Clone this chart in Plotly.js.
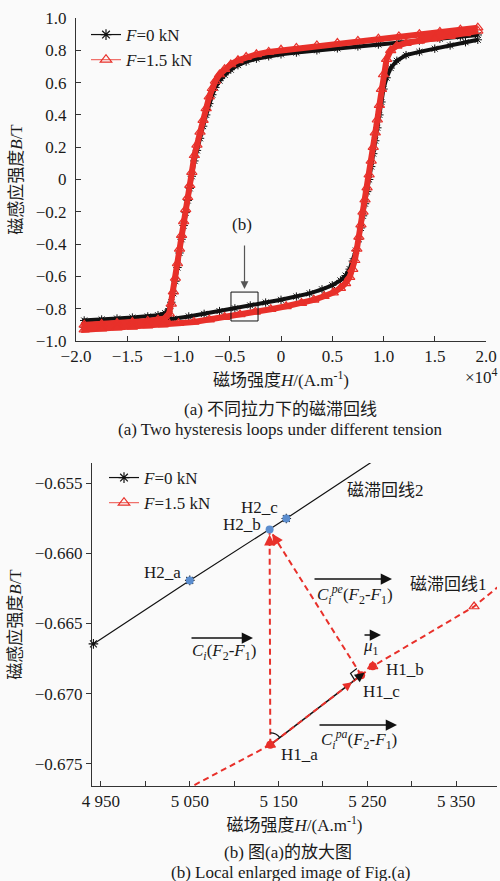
<!DOCTYPE html>
<html>
<head>
<meta charset="utf-8">
<script src="https://cdn.plot.ly/plotly-3.0.1.min.js"></script>
<style>
  html, body { margin: 0; padding: 0; background: #fafafa; }
  #chart { width: 500px; height: 881px; }
</style>
</head>
<body>
<div id="chart"></div>
<script>
// ---------- (a) full hysteresis loops, H in units of 1e4 A/m ----------
// F = 0 kN, descending branch (H from +max to -max)
const f0DownH = [1.92, 1.75, 1.55, 1.35, 1.15, 0.95, 0.75, 0.55, 0.35, 0.15, 0.00, -0.12, -0.24, -0.34, -0.42, -0.49, -0.55, -0.60, -0.64, -0.67, -0.70, -0.73, -0.76, -0.79, -0.82, -0.845, -0.87, -0.89, -0.91, -0.93, -0.95, -0.97, -0.99, -1.01, -1.03, -1.05, -1.07, -1.09, -1.13, -1.20, -1.30, -1.45, -1.60, -1.75, -1.92];
const f0DownB = [0.895, 0.885, 0.872, 0.860, 0.848, 0.836, 0.824, 0.812, 0.800, 0.786, 0.775, 0.763, 0.748, 0.730, 0.708, 0.680, 0.648, 0.612, 0.570, 0.525, 0.470, 0.400, 0.330, 0.255, 0.180, 0.115, 0.020, -0.055, -0.130, -0.205, -0.285, -0.370, -0.455, -0.545, -0.630, -0.705, -0.760, -0.800, -0.828, -0.840, -0.848, -0.855, -0.861, -0.867, -0.873];
// F = 0 kN, ascending branch
const f0UpH = [-1.92, -1.75, -1.60, -1.45, -1.30, -1.15, -1.05, -0.90, -0.75, -0.60, -0.45, -0.30, -0.15, 0.00, 0.15, 0.28, 0.40, 0.50, 0.58, 0.63, 0.67, 0.70, 0.73, 0.76, 0.78, 0.80, 0.82, 0.84, 0.86, 0.88, 0.90, 0.92, 0.94, 0.96, 0.98, 1.00, 1.03, 1.07, 1.13, 1.22, 1.35, 1.50, 1.65, 1.80, 1.92];
const f0UpB = [-0.915, -0.905, -0.898, -0.890, -0.880, -0.870, -0.862, -0.848, -0.832, -0.815, -0.798, -0.780, -0.762, -0.745, -0.725, -0.705, -0.680, -0.655, -0.625, -0.595, -0.555, -0.505, -0.440, -0.370, -0.300, -0.225, -0.150, -0.075, 0.000, 0.080, 0.160, 0.240, 0.320, 0.400, 0.480, 0.560, 0.630, 0.690, 0.735, 0.770, 0.790, 0.810, 0.830, 0.850, 0.865];
// F = 1.5 kN, descending branch
const f15DownH = [1.92, 1.75, 1.55, 1.35, 1.15, 0.95, 0.75, 0.55, 0.35, 0.15, 0.00, -0.12, -0.24, -0.34, -0.42, -0.49, -0.55, -0.60, -0.64, -0.67, -0.70, -0.73, -0.76, -0.79, -0.82, -0.845, -0.87, -0.89, -0.91, -0.93, -0.95, -0.97, -0.99, -1.01, -1.03, -1.05, -1.07, -1.09, -1.13, -1.20, -1.30, -1.45, -1.60, -1.75, -1.92];
const f15DownB = [0.940, 0.928, 0.914, 0.900, 0.886, 0.872, 0.858, 0.845, 0.830, 0.815, 0.803, 0.790, 0.775, 0.758, 0.738, 0.712, 0.683, 0.650, 0.610, 0.565, 0.513, 0.440, 0.368, 0.295, 0.215, 0.150, 0.045, -0.035, -0.110, -0.185, -0.260, -0.345, -0.430, -0.520, -0.610, -0.695, -0.770, -0.830, -0.860, -0.868, -0.876, -0.883, -0.889, -0.895, -0.900];
// F = 1.5 kN, ascending branch
const f15UpH = [-1.92, -1.75, -1.60, -1.45, -1.30, -1.15, -1.00, -0.85, -0.70, -0.55, -0.40, -0.25, -0.10, 0.05, 0.20, 0.32, 0.42, 0.51, 0.58, 0.63, 0.67, 0.70, 0.72, 0.74, 0.76, 0.78, 0.80, 0.82, 0.84, 0.86, 0.88, 0.90, 0.92, 0.94, 0.96, 0.98, 1.00, 1.03, 1.07, 1.13, 1.22, 1.35, 1.50, 1.65, 1.80, 1.92];
const f15UpB = [-0.930, -0.924, -0.918, -0.912, -0.905, -0.898, -0.890, -0.882, -0.868, -0.852, -0.836, -0.820, -0.803, -0.785, -0.765, -0.745, -0.723, -0.700, -0.672, -0.643, -0.605, -0.555, -0.500, -0.430, -0.355, -0.280, -0.200, -0.125, -0.050, 0.030, 0.115, 0.200, 0.290, 0.370, 0.460, 0.560, 0.650, 0.745, 0.800, 0.828, 0.845, 0.858, 0.872, 0.888, 0.905, 0.920];
// window that is enlarged in (b): [Hmin, Hmax], [Bmin, Bmax]
const zoomWinH = [-0.488, -0.224];
const zoomWinB = [-0.876, -0.697];

const aTickH = [-2, -1.5, -1, -0.5, 0, 0.5, 1, 1.5, 2];
const aTickHText = ['\u22122.0', '\u22121.5', '\u22121.0', '\u22120.5', '0', '0.5', '1.0', '1.5', '2.0'];
const aTickB = [-1, -0.8, -0.6, -0.4, -0.2, 0, 0.2, 0.4, 0.6, 0.8, 1];
const aTickBText = ['\u22121.0', '\u22120.8', '\u22120.6', '\u22120.4', '\u22120.2', '0', '0.2', '0.4', '0.6', '0.8', '1.0'];

// ---------- (b) enlarged region, H in A/m ----------
const loop2H = [4941.5, 5050.0, 5158.7, 5267.3];        // F = 0 kN (磁滞回线2)
const loop2B = [-0.66645, -0.66193, -0.65752, -0.65298];
const loop1H = [5025.4, 5140.7, 5256.0, 5370.2, 5485.0]; // F = 1.5 kN (磁滞回线1)
const loop1B = [-0.67750, -0.67364, -0.66805, -0.66379, -0.65782];
const h2Names = ['H2_a', 'H2_b', 'H2_c'];
const h2H = [loop2H[1], 5139.9, loop2H[2]];
const h2B = [loop2B[1], -0.65830, loop2B[2]];
const h1Names = ['H1_a', 'H1_b', 'H1_c'];
const h1H = [loop1H[1], loop1H[2], 5243.0];
const h1B = [loop1B[1], loop1B[2], -0.66868];

const bTickH = [4950, 5000, 5050, 5100, 5150, 5200, 5250, 5300, 5350];
const bTickHText = ['4 950', '', '5 050', '', '5 150', '', '5 250', '', '5 350'];
const bTickB = [-0.675, -0.670, -0.665, -0.660, -0.655];
const bTickBText = ['\u22120.675', '\u22120.670', '\u22120.665', '\u22120.660', '\u22120.655'];

// ---------- geometry ----------
const W = 500, HT = 881;
const FONT = '"Liberation Serif", "Times New Roman", "Noto Sans CJK SC", serif';
const INK = '#1a1a1a';
const RED = '#e8302a';
const BLUE = '#5b8dce';
const topBox = { l: 76, r: 486, t: 18, b: 341 };
const botBox = { l: 92, r: 497, t: 463, b: 786 };
const botRangeH = [4939.9, 5396];
const botRangeB = [-0.67657, -0.65357];

const paper = (px, py) => ({ x: px / W, y: 1 - py / HT });
function botPx(h, b) {
  const x = botBox.l + (h - botRangeH[0]) / (botRangeH[1] - botRangeH[0]) * (botBox.r - botBox.l);
  const y = botBox.t + (botRangeB[1] - b) / (botRangeB[1] - botRangeB[0]) * (botBox.b - botBox.t);
  return [x, y];
}
function unit(from, to) {
  const dx = to[0] - from[0], dy = to[1] - from[1], d = Math.hypot(dx, dy);
  return [dx / d, dy / d];
}

// ---------- traces ----------
const traces = [];
// (a) loops: black first, red drawn over it
traces.push({
  x: f0DownH.concat(f0UpH), y: f0DownB.concat(f0UpB),
  xaxis: 'x', yaxis: 'y', mode: 'lines+markers', showlegend: false, hoverinfo: 'skip',
  line: { color: '#111', width: 4 },
  marker: { symbol: 'asterisk-open', size: 7, color: '#111', line: { color: '#111', width: 1 } }
});
traces.push({
  x: f15DownH.concat(f15UpH), y: f15DownB.concat(f15UpB),
  xaxis: 'x', yaxis: 'y', mode: 'lines+markers', showlegend: false, hoverinfo: 'skip',
  line: { color: RED, width: 6 },
  marker: { symbol: 'triangle-up-open', size: 9, color: RED, line: { color: RED, width: 1.2 } }
});
// legend entries for (a)
traces.push({ x: [null], y: [null], xaxis: 'x', yaxis: 'y', mode: 'lines+markers', name: '<i>F</i>=0 kN', legend: 'legend',
  line: { color: '#111', width: 1.2 }, marker: { symbol: 'asterisk-open', size: 9, color: '#111', line: { color: '#111', width: 1.2 } } });
traces.push({ x: [null], y: [null], xaxis: 'x', yaxis: 'y', mode: 'lines+markers', name: '<i>F</i>=1.5 kN', legend: 'legend',
  line: { color: '#f06a64', width: 1.2 }, marker: { symbol: 'triangle-up-open', size: 10, color: RED, line: { color: RED, width: 1.2 } } });

// (b) projection H1_a -> H1_c along loop 1 (black shaft, tip just past H1_c)
const tipFrac = 0.92;
const tipH = h1H[0] + (h1H[1] - h1H[0]) * tipFrac;
const tipB = h1B[0] + (h1B[1] - h1B[0]) * tipFrac;
traces.push({ x: [h1H[0], tipH], y: [h1B[0], tipB], xaxis: 'x2', yaxis: 'y2', mode: 'lines',
  showlegend: false, hoverinfo: 'skip', line: { color: '#111', width: 1.6 } });
// loop 2 (F = 0 kN)
traces.push({ x: loop2H, y: loop2B, xaxis: 'x2', yaxis: 'y2', mode: 'lines+markers', showlegend: false,
  hoverinfo: 'skip', cliponaxis: false, line: { color: '#111', width: 1.2 },
  marker: { symbol: 'asterisk-open', size: 8, color: '#111', line: { color: '#111', width: 1.1 } } });
// loop 1 (F = 1.5 kN)
traces.push({ x: loop1H, y: loop1B, xaxis: 'x2', yaxis: 'y2', mode: 'lines+markers', showlegend: false,
  hoverinfo: 'skip', line: { color: RED, width: 2, dash: '6px,4px' },
  marker: { symbol: 'triangle-up-open', size: 9, color: RED, line: { color: RED, width: 1.2 } } });
// dashed shafts H1_a -> H2_b and H1_c -> H2_b
traces.push({ x: [h1H[0], h2H[1], null, h1H[2], h2H[1]], y: [h1B[0], h2B[1], null, h1B[2], h2B[1]],
  xaxis: 'x2', yaxis: 'y2', mode: 'lines', showlegend: false, hoverinfo: 'skip',
  line: { color: RED, width: 2, dash: '6px,4px' } });
// named points
traces.push({ x: h2H, y: h2B, text: h2Names, xaxis: 'x2', yaxis: 'y2', mode: 'markers', showlegend: false,
  hoverinfo: 'text', marker: { color: BLUE, size: 8 } });
traces.push({ x: h1H, y: h1B, text: h1Names, xaxis: 'x2', yaxis: 'y2', mode: 'markers', showlegend: false,
  hoverinfo: 'text', marker: { color: RED, size: 8 } });
// legend entries for (b)
traces.push({ x: [null], y: [null], xaxis: 'x2', yaxis: 'y2', mode: 'lines+markers', name: '<i>F</i>=0 kN', legend: 'legend2',
  line: { color: '#111', width: 1.2 }, marker: { symbol: 'asterisk-open', size: 9, color: '#111', line: { color: '#111', width: 1.2 } } });
traces.push({ x: [null], y: [null], xaxis: 'x2', yaxis: 'y2', mode: 'lines+markers', name: '<i>F</i>=1.5 kN', legend: 'legend2',
  line: { color: '#f06a64', width: 1.2 }, marker: { symbol: 'triangle-up-open', size: 10, color: RED, line: { color: RED, width: 1.2 } } });

// ---------- annotations ----------
const ann = [];
const txt = (px, py, text, opts) => Object.assign({ xref: 'paper', yref: 'paper', ...paper(px, py), text,
  showarrow: false, xanchor: 'center', yanchor: 'middle', font: { family: FONT, size: 17, color: INK } }, opts || {});
const vecArrow = (x1, x2, py) => Object.assign({ xref: 'paper', yref: 'paper', ...paper(x2, py), text: '',
  showarrow: true, ax: -(x2 - x1), ay: 0, arrowhead: 2, arrowsize: 1.5, arrowwidth: 1.5, arrowcolor: '#111', standoff: 0 });

// (a)
ann.push(txt(242, 224, '(b)'));
ann.push({ xref: 'x', yref: 'y', x: (zoomWinH[0] + zoomWinH[1]) / 2, y: zoomWinB[1], text: '', showarrow: true,
  ax: 0, ay: -48, arrowhead: 2, arrowsize: 1.3, arrowwidth: 1.2, arrowcolor: '#555', standoff: 3 });
ann.push(txt(500, 376, '\u00d710<sup>4</sup>', { xanchor: 'right' }));
ann.push(txt(280, 409, '(a) 不同拉力下的磁滞回线'));
ann.push(txt(280, 430, '(a) Two hysteresis loops under different tension'));

// (b) point labels
const labelOffsets = {
  'H2_a': { xanchor: 'right', xshift: -7, yshift: 8 },
  'H2_b': { xanchor: 'right', xshift: -7, yshift: 5 },
  'H2_c': { xanchor: 'right', xshift: -6, yshift: 11 },
  'H1_a': { xanchor: 'left', xshift: 9, yshift: -10 },
  'H1_b': { xanchor: 'left', xshift: 11, yshift: -3 },
  'H1_c': { xanchor: 'left', xshift: 0, yshift: -16 }
};
h2Names.forEach((n, i) => ann.push(Object.assign({ xref: 'x2', yref: 'y2', x: h2H[i], y: h2B[i], text: n, showarrow: false,
  yanchor: 'middle', font: { family: FONT, size: 17, color: INK } }, labelOffsets[n])));
h1Names.forEach((n, i) => ann.push(Object.assign({ xref: 'x2', yref: 'y2', x: h1H[i], y: h1B[i], text: n, showarrow: false,
  yanchor: 'middle', font: { family: FONT, size: 17, color: INK } }, labelOffsets[n])));

ann.push(txt(385, 490, '磁滞回线2'));
ann.push(txt(448, 584, '磁滞回线1'));
ann.push(vecArrow(313, 392, 579));
ann.push(txt(355, 594, '<i>C</i><sub><i>i</i></sub><sup><i>pe</i></sup>(<i>F</i><sub>2</sub>-<i>F</i><sub>1</sub>)'));
ann.push(vecArrow(190, 253, 638));
ann.push(txt(224, 652, '<i>C</i><sub><i>i</i></sub>(<i>F</i><sub>2</sub>-<i>F</i><sub>1</sub>)'));
ann.push(vecArrow(363, 381, 635));
ann.push(txt(371, 647, '<i>μ</i><sub>1</sub>'));
ann.push(vecArrow(318, 397, 725));
ann.push(txt(359, 739, '<i>C</i><sub><i>i</i></sub><sup><i>pa</i></sup>(<i>F</i><sub>2</sub>-<i>F</i><sub>1</sub>)'));
ann.push(txt(288, 852, '(b) 图(a)的放大图'));
ann.push(txt(290, 872, '(b) Local enlarged image of Fig.(a)'));

// arrowheads in (b)
function headAt(toH, toB, fromH, fromB, color, len, standoff, width, size) {
  const to = botPx(toH, toB), from = botPx(fromH, fromB);
  const u = unit(to, from);
  return { xref: 'x2', yref: 'y2', x: toH, y: toB, text: '', showarrow: true, ax: u[0] * len, ay: u[1] * len,
    arrowhead: 2, arrowsize: size, arrowwidth: width, arrowcolor: color, standoff };
}
ann.push(headAt(h2H[1], h2B[1], h1H[0], h1B[0], RED, 18, 5, 2, 1.1));
ann.push(headAt(h2H[1], h2B[1], h1H[2], h1B[2], RED, 18, 5, 2, 1.1));
ann.push(headAt(tipH, tipB, h1H[0], h1B[0], '#111', 10, 0, 1.6, 1.2));
const redFrac = 0.9;
ann.push(headAt(h1H[0] + (h1H[2] - h1H[0]) * redFrac, h1B[0] + (h1B[2] - h1B[0]) * redFrac,
  h1H[0], h1B[0], RED, 10, 0, 1.8, 1.0));

// ---------- shapes ----------
const shapes = [];
shapes.push({ type: 'rect', xref: 'x', yref: 'y', x0: zoomWinH[0], x1: zoomWinH[1], y0: zoomWinB[0], y1: zoomWinB[1],
  line: { color: '#111', width: 1 } });
// right-angle mark at H1_c
(function () {
  const c = botPx(h1H[2], h1B[2]);
  const u1 = unit(c, botPx(h1H[0], h1B[0]));
  const u2 = unit(c, botPx(h2H[1], h2B[1]));
  const s = 8;
  const p = (v) => `${v[0].toFixed(2)} ${(-v[1]).toFixed(2)}`;
  const a = [u1[0] * s, u1[1] * s], b = [u2[0] * s, u2[1] * s], m = [a[0] + b[0], a[1] + b[1]];
  shapes.push({ type: 'path', xref: 'x2', yref: 'y2', xsizemode: 'pixel', ysizemode: 'pixel',
    xanchor: h1H[2], yanchor: h1B[2], path: `M ${p(a)} L ${p(m)} L ${p(b)}`, line: { color: '#111', width: 1.2 } });
})();
// angle arc at H1_a
(function () {
  const c = botPx(h1H[0], h1B[0]);
  const u1 = unit(c, botPx(h2H[1], h2B[1]));
  const u2 = unit(c, botPx(h1H[2], h1B[2]));
  const r = 12;
  const k = r / (1 + u1[0] * u2[0] + u1[1] * u2[1]);
  const p = (v) => `${v[0].toFixed(2)} ${(-v[1]).toFixed(2)}`;
  shapes.push({ type: 'path', xref: 'x2', yref: 'y2', xsizemode: 'pixel', ysizemode: 'pixel',
    xanchor: h1H[0], yanchor: h1B[0],
    path: `M ${p([u1[0] * r, u1[1] * r])} Q ${p([(u1[0] + u2[0]) * k, (u1[1] + u2[1]) * k])} ${p([u2[0] * r, u2[1] * r])}`,
    line: { color: '#111', width: 1.2 } });
})();

// ---------- layout ----------
const axisBase = {
  showline: true, linecolor: '#333', linewidth: 1, showgrid: false, zeroline: false,
  tickcolor: '#333', ticklen: 5, tickwidth: 1, tickmode: 'array',
  tickfont: { family: FONT, size: 17, color: INK }
};
const titleFont = { family: FONT, size: 17, color: INK };
const legendBase = { xanchor: 'left', yanchor: 'top', bgcolor: 'rgba(0,0,0,0)', borderwidth: 0,
  font: { family: FONT, size: 17, color: INK }, tracegroupgap: 0, itemclick: false, itemdoubleclick: false };

const layout = {
  width: W, height: HT,
  margin: { l: 0, r: 0, t: 0, b: 0, pad: 0 },
  paper_bgcolor: '#fafafa', plot_bgcolor: 'rgba(0,0,0,0)',
  font: { family: FONT, size: 17, color: INK },
  showlegend: true,
  xaxis: Object.assign({}, axisBase, {
    domain: [topBox.l / W, topBox.r / W], range: [-2, 2], anchor: 'y',
    tickvals: aTickH, ticktext: aTickHText, ticks: 'inside', ticklabelstandoff: 0,
    title: { text: '磁场强度<i>H</i>/(A.m<sup>-1</sup>)', font: titleFont, standoff: 8 }
  }),
  yaxis: Object.assign({}, axisBase, {
    domain: [1 - topBox.b / HT, 1 - topBox.t / HT], range: [-1, 1], anchor: 'x',
    tickvals: aTickB, ticktext: aTickBText, ticks: 'inside', ticklabelstandoff: 5,
    title: { text: '磁感应强度<i>B</i>/T', font: titleFont, standoff: 8 }
  }),
  xaxis2: Object.assign({}, axisBase, {
    domain: [botBox.l / W, botBox.r / W], range: botRangeH, anchor: 'y2',
    tickvals: bTickH, ticktext: bTickHText, ticks: 'inside', ticklabelstandoff: 0,
    title: { text: '磁场强度<i>H</i>/(A.m<sup>-1</sup>)', font: titleFont, standoff: 8 }
  }),
  yaxis2: Object.assign({}, axisBase, {
    domain: [1 - botBox.b / HT, 1 - botBox.t / HT], range: botRangeB, anchor: 'x2',
    tickvals: bTickB, ticktext: bTickBText, ticks: 'outside',
    title: { text: '磁感应强度<i>B</i>/T', font: titleFont, standoff: 8 }
  }),
  legend: Object.assign({}, legendBase, { x: 86 / W, y: 1 - 17 / HT }),
  legend2: Object.assign({}, legendBase, { x: 104 / W, y: 1 - 460 / HT }),
  annotations: ann,
  shapes: shapes
};

Plotly.newPlot('chart', traces, layout, { displayModeBar: false, staticPlot: true });
</script>
</body>
</html>
